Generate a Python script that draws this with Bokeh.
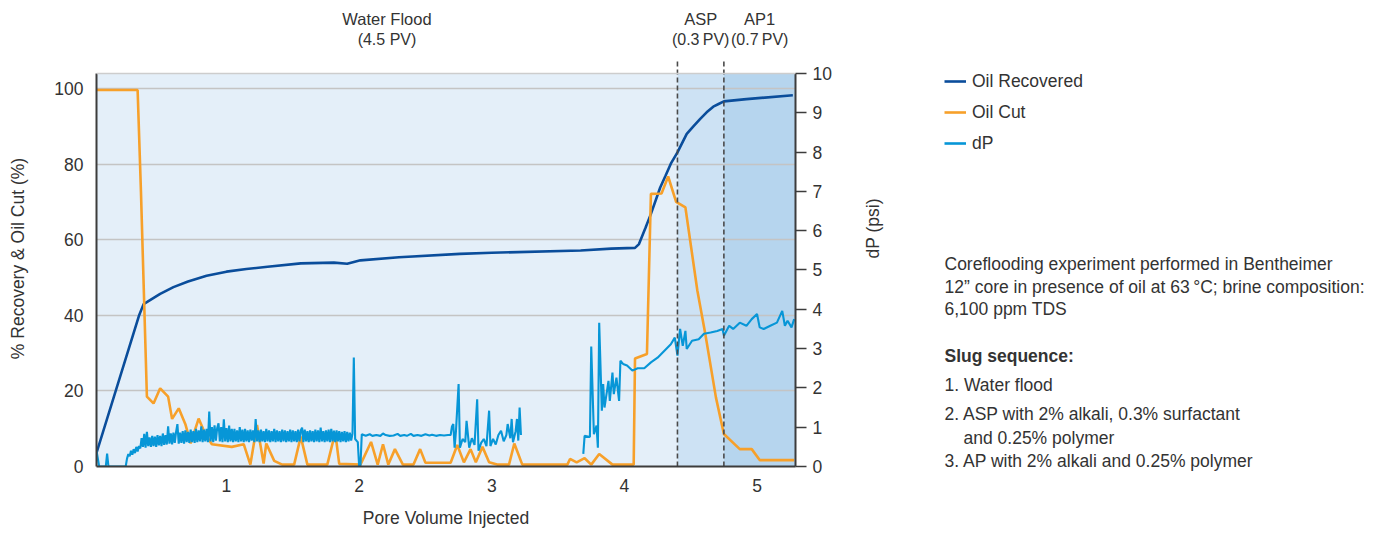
import math
from bokeh.plotting import figure
from bokeh.layouts import row, column
from bokeh.models import (Range1d, LinearAxis, Legend, LegendItem, FixedTicker, Span)
from bokeh.core.properties import value
from bokeh.embed import file_html
from bokeh.resources import INLINE

FONT = "Liberation Sans"
TXT = "#333333"
FS = "17.5px"
NAN = float("nan")

# ---------------- data ----------------
# Oil Recovered (%), left axis
rec_pv = [0.02, 0.34, 0.375, 0.50, 0.60, 0.71, 0.85, 1.00, 1.15, 1.31, 1.56, 1.81, 1.91,
          2.01, 2.30, 2.76, 3.00, 3.67, 3.90, 4.08, 4.11, 4.16, 4.20, 4.27, 4.31, 4.35,
          4.40, 4.47, 4.52, 4.57, 4.62, 4.67, 4.71, 4.75, 4.92, 5.27]
rec_val = [3.6, 39.9, 43.0, 45.7, 47.5, 49.0, 50.5, 51.6, 52.3, 52.9, 53.8, 54.0, 53.7,
           54.6, 55.4, 56.3, 56.6, 57.2, 57.7, 57.9, 58.9, 63.3, 66.9, 73.9, 77.0, 80.2,
           83.2, 88.1, 90.1, 92.0, 93.8, 95.3, 96.0, 96.7, 97.3, 98.3]

# Oil Cut (%), left axis
cut_pv = [0.02, 0.33, 0.355, 0.40, 0.45, 0.50, 0.56, 0.59, 0.64, 0.69, 0.73, 0.79, 0.84,
          0.89, 1.04, 1.13, 1.18, 1.23, 1.28, 1.30, 1.36, 1.42, 1.51, 1.56, 1.61, 1.76,
          1.82, 1.85, 2.01, 2.09, 2.14, 2.18, 2.22, 2.27, 2.33, 2.41, 2.46, 2.50, 2.69,
          2.74, 2.79, 2.84, 2.88, 2.93, 2.98, 3.04, 3.13, 3.17, 3.23, 3.57, 3.59, 3.64,
          3.70, 3.75, 3.81, 3.91, 4.07, 4.08, 4.17, 4.20, 4.28, 4.33, 4.39, 4.46, 4.55,
          4.61, 4.69, 4.75, 4.87, 4.96, 5.02, 5.28]
cut_val = [99.7, 99.7, 73.0, 18.5, 16.7, 20.7, 18.5, 12.6, 15.4, 11.2, 6.1, 12.7, 8.6,
           5.9, 5.2, 5.9, 0.5, 11.0, 0.8, 6.1, 1.5, 0.5, 0.5, 7.9, 0.5, 0.5,
           9.0, 0.7, 0.5, 6.5, 0.5, 5.9, 0.5, 4.6, 0.5, 0.5, 4.6, 1.0, 1.0,
           5.7, 1.1, 4.6, 1.1, 5.2, 1.1, 0.5, 0.5, 6.1, 0.5, 0.5, 2.0, 1.1,
           2.2, 0.5, 3.3, 0.5, 0.5, 28.6, 29.8, 72.2, 72.3, 76.8, 70.1, 68.6, 46.6,
           35.1, 18.3, 8.6, 4.6, 4.6, 1.7, 1.7]

# dP (psi), right axis -- water flood, first part (dense noisy band)
dp1_pv = [0.02, 0.04, 0.09, 0.10, 0.11, 0.24,
          0.25, 0.26, 0.27, 0.28, 0.29, 0.30, 0.31, 0.32, 0.33, 0.34,
          0.35, 0.36, 0.37, 0.38, 0.39, 0.40, 0.41, 0.42, 0.43, 0.44,
          0.45, 0.46, 0.47, 0.48, 0.49, 0.50, 0.51, 0.52, 0.53, 0.54,
          0.55, 0.56, 0.57, 0.58, 0.59, 0.60, 0.61, 0.62, 0.63, 0.64,
          0.65, 0.66, 0.67, 0.68, 0.69, 0.70, 0.71, 0.72, 0.73, 0.74,
          0.75, 0.76, 0.77, 0.78, 0.79, 0.80, 0.81, 0.82, 0.83, 0.84,
          0.85, 0.86, 0.87, 0.88, 0.89, 0.90, 0.91, 0.92, 0.93, 0.94,
          0.95, 0.96, 0.97, 0.98, 0.99, 1.00, 1.01, 1.02, 1.03, 1.04,
          1.05, 1.06, 1.07, 1.08, 1.09, 1.10, 1.11, 1.12, 1.13, 1.14,
          1.15, 1.16, 1.17, 1.18, 1.19, 1.20, 1.21, 1.22, 1.23, 1.24,
          1.25, 1.26, 1.27, 1.28, 1.29, 1.30, 1.31, 1.32, 1.33, 1.34,
          1.35, 1.36, 1.37, 1.38, 1.39, 1.40, 1.41, 1.42, 1.43, 1.44,
          1.45, 1.46, 1.47, 1.48, 1.49, 1.50, 1.51, 1.52, 1.53, 1.54,
          1.55, 1.56, 1.57, 1.58, 1.59, 1.60, 1.61, 1.62, 1.63, 1.64,
          1.65, 1.66, 1.67, 1.68, 1.69, 1.70, 1.71, 1.72, 1.73, 1.74,
          1.75, 1.76, 1.77, 1.78, 1.79, 1.80, 1.81, 1.82, 1.83, 1.84,
          1.85, 1.86, 1.87, 1.88, 1.89, 1.90, 1.91, 1.92, 1.93, 1.94,
          1.95, 1.96, 1.97, 1.98, 1.99, 2.00]
dp1_psi = [0.40, 0.0, 0.0, 0.33, 0.0, 0.0,
           0.20, 0.32, 0.26, 0.40, 0.30, 0.44, 0.34, 0.50, 0.38, 0.52,
           0.46, 0.72, 0.50, 0.83, 0.48, 0.88, 0.52, 0.74, 0.50, 0.78,
           0.52, 0.76, 0.50, 0.80, 0.54, 0.78, 0.52, 0.84, 0.55, 0.80,
           0.56, 1.02, 0.58, 0.84, 0.56, 0.86, 0.60, 0.88, 1.08, 0.58,
           0.86, 0.60, 0.90, 0.58, 0.92, 0.62, 0.88, 0.60, 0.94, 0.62,
           0.90, 0.60, 0.96, 0.62, 0.92, 0.64, 1.02, 0.62, 0.94, 0.64,
           0.96, 0.62, 1.40, 0.64, 1.00, 0.62, 1.05, 0.66, 0.98, 1.10,
           0.64, 1.00, 0.62, 1.20, 0.64, 0.98, 0.62, 1.04, 0.64, 0.96,
           0.62, 0.96, 0.64, 0.92, 0.62, 1.00, 0.64, 0.94, 0.62, 0.96,
           0.64, 0.92, 0.62, 0.94, 0.66, 0.92, 0.62, 1.21, 0.64, 0.92,
           0.62, 0.94, 0.64, 0.90, 0.62, 0.96, 0.64, 0.92, 0.62, 0.90,
           0.64, 0.96, 0.62, 0.92, 0.64, 0.90, 0.62, 0.94, 0.64, 0.92,
           0.62, 0.90, 0.64, 0.94, 0.62, 0.92, 0.64, 0.90, 0.62, 0.94,
           0.64, 0.92, 0.99, 0.62, 0.94, 0.64, 0.90, 0.62, 0.92, 0.64,
           0.90, 0.62, 0.94, 0.64, 0.92, 0.62, 0.99, 0.64, 0.90, 0.62,
           0.92, 0.64, 0.94, 0.62, 0.96, 0.64, 0.91, 0.62, 0.92, 0.64,
           0.90, 0.62, 0.88, 0.64, 0.90, 0.62, 0.88, 0.64, 0.86, 0.66,
           0.84, 2.77, 0.70, 0.66, 0.62, 0.02]

# dP -- water flood, second part
dp2_pv = [2.01, 2.02, 2.05, 2.08, 2.10, 2.13, 2.16, 2.18, 2.20, 2.23, 2.26, 2.29, 2.31,
          2.34, 2.36, 2.39, 2.41, 2.44, 2.47, 2.50, 2.53, 2.55, 2.58, 2.61, 2.64, 2.67,
          2.69, 2.70, 2.71, 2.72, 2.73, 2.75, 2.76, 2.78, 2.80, 2.81, 2.83, 2.85, 2.87,
          2.89, 2.90, 2.92, 2.94, 2.96, 2.98, 2.99, 3.01, 3.03, 3.05, 3.07, 3.09, 3.11,
          3.12, 3.14, 3.15, 3.16, 3.18, 3.19, 3.20, 3.21, 3.22]
dp2_psi = [0.02, 0.82, 0.78, 0.82, 0.78, 0.80, 0.78, 0.84, 0.80, 0.78, 0.79, 0.83, 0.78,
           0.80, 0.78, 0.83, 0.78, 0.80, 0.78, 0.82, 0.79, 0.81, 0.78, 0.80, 0.79, 0.80,
           0.80, 1.02, 1.08, 0.48, 0.90, 2.10, 0.48, 0.70, 0.62, 1.16, 0.48, 0.72, 0.55,
           1.71, 0.40, 0.60, 0.70, 0.52, 1.42, 0.52, 0.70, 0.56, 0.80, 0.91, 0.64, 0.80,
           1.08, 0.72, 1.21, 0.62, 0.90, 1.21, 0.66, 1.50, 0.80]

# dP -- late water flood, ASP and AP
dp3_pv = [3.69, 3.70, 3.74, 3.75, 3.77, 3.79, 3.80, 3.81, 3.83, 3.84, 3.85, 3.88, 3.89,
          3.91, 3.92, 3.94, 3.96, 3.97, 3.99, 4.02, 4.06, 4.10, 4.15, 4.20, 4.25, 4.30,
          4.35, 4.38, 4.40, 4.42, 4.44, 4.46, 4.47, 4.51, 4.56, 4.60, 4.65, 4.70, 4.74,
          4.75, 4.79, 4.82, 4.87, 4.92, 4.96, 5.00, 5.02, 5.05, 5.10, 5.15, 5.19, 5.21,
          5.23, 5.26, 5.28]
dp3_psi = [0.32, 0.78, 0.75, 3.05, 0.82, 1.04, 0.48, 3.66, 1.42, 2.10, 1.50, 2.18, 1.67,
           2.39, 1.84, 2.26, 1.67, 2.69, 2.61, 2.57, 2.44, 2.50, 2.50, 2.65, 2.77, 2.94,
           3.11, 3.28, 2.82, 3.50, 3.07, 3.45, 2.99, 3.20, 3.24, 3.38, 3.41, 3.45, 3.50,
           3.33, 3.58, 3.50, 3.66, 3.58, 3.75, 3.88, 3.54, 3.50, 3.58, 3.66, 3.96, 3.58,
           3.71, 3.54, 3.75]

dp_pv = dp1_pv + dp2_pv + [3.45] + dp3_pv
dp_psi = dp1_psi + dp2_psi + [NAN] + dp3_psi

# injection phases
phase_label = ["Water Flood", "ASP", "AP1"]
phase_sub = ["(4.5 PV)", "(0.3\u2009PV)", "(0.7\u2009PV)"]
phase_start = [0.02, 4.40, 4.75]
phase_end = [4.40, 4.75, 5.29]
phase_color = ["#e4eff9", "#cde2f4", "#b6d5ee"]

x_ticks = [1, 2, 3, 4, 5]
y_ticks = [0, 20, 40, 60, 80, 100]
dp_ticks = list(range(0, 11))

series_names = ["Oil Recovered", "Oil Cut", "dP"]
series_colors = ["#0a4d9b", "#f7a02a", "#0796d7"]

notes = ["Coreflooding experiment performed in Bentheimer",
         "12\u201d core in presence of oil at 63\u2009\u00b0C; brine composition:",
         "6,100 ppm TDS"]
slug_title = "Slug sequence:"
slug_steps = ["1. Water flood",
              "2. ASP with 2% alkali, 0.3% surfactant",
              "and 0.25% polymer",
              "3. AP with 2% alkali and 0.25% polymer"]

# ---------------- layout constants (pixels) ----------------
LEFT_W = 900          # width of the chart column
TOP_H = 50            # height of the strip with phase titles
MAIN_H = 483
BORDER_L, BORDER_R, BORDER_B = 96, 105, 67
NOTES_W = 480
TOTAL_H = TOP_H + MAIN_H

X0, X1 = 0.02, 5.29
Y_FRAME_TOP = 110.17   # left-axis value at top of the main frame
Y_TOP = 104.07         # top of the plotting box (left units)
DP_FRAME_TOP = 10.585  # right-axis value at top of the main frame
DASH_TOP = 108.0

x_range = Range1d(X0, X1)

# ---------------- main chart ----------------
p = figure(width=LEFT_W, height=MAIN_H, x_range=x_range, y_range=Range1d(0, Y_FRAME_TOP),
           output_backend="svg", toolbar_location=None,
           min_border_left=BORDER_L, min_border_right=BORDER_R, min_border_top=0,
           min_border_bottom=BORDER_B)
p.extra_y_ranges = {"dp": Range1d(0, DP_FRAME_TOP)}
p.outline_line_color = None
p.background_fill_color = "white"

p.quad(left=phase_start, right=phase_end, bottom=0, top=Y_TOP, fill_color=phase_color,
       line_color=None, level="image")
p.add_layout(Span(location=Y_TOP, dimension="width", line_color="#cdcdcd",
                  line_width=1.5))

p.xgrid.visible = False
p.ygrid.ticker = FixedTicker(ticks=y_ticks[1:])
p.ygrid.grid_line_color = "#c4c4c4"
p.ygrid.grid_line_width = 1.5

r_rec = p.line(rec_pv, rec_val, line_color=series_colors[0], line_width=2.6)
r_cut = p.line(cut_pv, cut_val, line_color=series_colors[1], line_width=2.6)
r_dp = p.line(dp_pv, dp_psi, line_color=series_colors[2], line_width=2.1,
              y_range_name="dp")

p.segment(x0=phase_start[1:], y0=0, x1=phase_start[1:], y1=DASH_TOP,
          line_color="#4a4a4a", line_width=1.6, line_dash="5 3")

for ax in (p.xaxis[0], p.yaxis[0]):
    ax.axis_line_color = "#3c3c3c"
    ax.axis_line_width = 2
    ax.major_tick_out = 0
    ax.major_tick_in = 0
    ax.minor_tick_out = 0
    ax.minor_tick_in = 0
    ax.major_label_text_font = FONT
    ax.major_label_text_font_size = FS
    ax.major_label_text_color = TXT
    ax.axis_label_text_font = FONT
    ax.axis_label_text_font_size = FS
    ax.axis_label_text_font_style = "normal"
    ax.axis_label_text_color = TXT

p.xaxis.ticker = FixedTicker(ticks=x_ticks)
p.xaxis.axis_label = "Pore Volume Injected"
p.xaxis.major_label_standoff = 12
p.xaxis.axis_label_standoff = 13

p.yaxis.ticker = FixedTicker(ticks=y_ticks)
p.yaxis.bounds = (0, Y_TOP)
p.yaxis.axis_label = "% Recovery & Oil Cut (%)"
p.yaxis.major_label_standoff = 13
p.yaxis.axis_label_standoff = 23

ax_r = LinearAxis(y_range_name="dp", ticker=FixedTicker(ticks=dp_ticks),
                  axis_label="dP (psi)", bounds=(0, 10))
ax_r.axis_line_color = "#3c3c3c"
ax_r.axis_line_width = 2
ax_r.major_tick_out = 11
ax_r.major_tick_in = 0
ax_r.major_tick_line_color = "#3c3c3c"
ax_r.major_tick_line_width = 1.5
ax_r.minor_tick_out = 0
ax_r.minor_tick_in = 0
ax_r.major_label_standoff = 6
ax_r.major_label_text_font = FONT
ax_r.major_label_text_font_size = FS
ax_r.major_label_text_color = TXT
ax_r.axis_label_text_font = FONT
ax_r.axis_label_text_font_size = FS
ax_r.axis_label_text_font_style = "normal"
ax_r.axis_label_text_color = TXT
ax_r.axis_label_standoff = 38
if "axis_label_orientation" in ax_r.properties():
    ax_r.axis_label_orientation = math.pi / 2
p.add_layout(ax_r, "right")

# ---------------- phase title strip ----------------
t = figure(width=LEFT_W, height=TOP_H, x_range=x_range, y_range=Range1d(TOP_H, 0),
           output_backend="svg", toolbar_location=None,
           x_axis_location=None, y_axis_location=None,
           min_border_left=BORDER_L, min_border_right=BORDER_R, min_border_top=0,
           min_border_bottom=0)
t.outline_line_color = None
t.grid.visible = False
centers = [(a + b) / 2 for a, b in zip(phase_start, phase_end)]
t.text(x=centers, y=[18] * 3, text=phase_label, text_align="center",
       text_baseline="middle", text_font=value(FONT), text_font_size="16.5px",
       text_color=TXT)
t.text(x=centers, y=[39] * 3, text=phase_sub, text_align="center",
       text_baseline="middle", text_font=value(FONT), text_font_size="16px",
       text_color=TXT)

# ---------------- legend and notes ----------------
n = figure(width=NOTES_W, height=TOTAL_H, x_range=Range1d(LEFT_W, LEFT_W + NOTES_W),
           y_range=Range1d(TOTAL_H, 0), output_backend="svg", toolbar_location=None,
           x_axis_location=None, y_axis_location=None,
           min_border_left=0, min_border_right=0, min_border_top=0, min_border_bottom=0)
n.outline_line_color = None
n.grid.visible = False

# proxy renderers (outside the visible range) that carry the legend styles
legend_rs = [n.line(x=[LEFT_W - 60, LEFT_W - 40], y=[-20, -20], line_color=c,
                    line_width=2.6) for c in series_colors]
legend = Legend(items=[LegendItem(label=s, renderers=[r]) for s, r in
                       zip(series_names, legend_rs)],
                location=(44, 379), orientation="vertical",
                padding=0, margin=0, spacing=9, glyph_width=22, glyph_height=22,
                label_height=22, label_standoff=6, border_line_color=None,
                background_fill_alpha=0, label_text_font=FONT,
                label_text_font_size=FS, label_text_color=TXT)
n.add_layout(legend, "center")

n.text(x=[944] * 3, y=[263, 286, 308], text=notes, text_align="left",
       text_baseline="middle", text_font=value(FONT), text_font_size=FS,
       text_color=TXT)
n.text(x=[944], y=[355], text=[slug_title], text_align="left", text_baseline="middle",
       text_font=value(FONT), text_font_size=FS, text_font_style="bold",
       text_color=TXT)
n.text(x=[944, 944, 963, 944], y=[384, 413, 437, 460], text=slug_steps,
       text_align="left", text_baseline="middle", text_font=value(FONT),
       text_font_size=FS, text_color=TXT)

layout = row(column(t, p, spacing=0), n, spacing=0)

open("out.html", "w").write(file_html(layout, INLINE))
